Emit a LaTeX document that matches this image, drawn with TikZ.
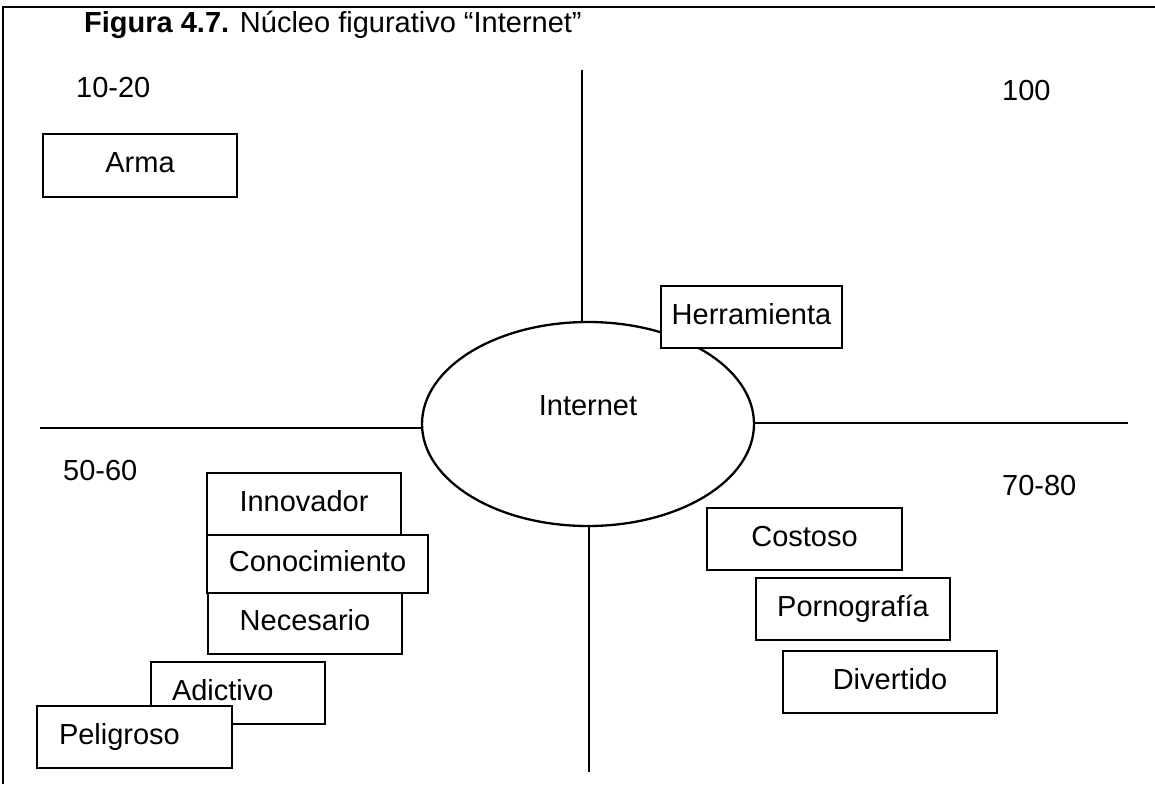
\documentclass[tikz,border=0pt]{standalone}
\usepackage{fontspec}
\setmainfont{Liberation Sans}
\usetikzlibrary{shapes.geometric}
\begin{document}
\begin{tikzpicture}[x=1pt,y=-1pt,
  every node/.style={font=\fontsize{29pt}{34pt}\selectfont},
  lbl/.style={anchor=base west, inner sep=0pt},
  wbox/.style={draw, line width=1.6pt, fill=white, rectangle, inner sep=0pt,
    text height=21pt, text depth=7pt, minimum height=62pt},
  axis/.style={line width=2.4pt},
  frameline/.style={line width=2.4pt}
]
\useasboundingbox (0,0) rectangle (1155,784);
% frame
\coordinate (fbl) at (3,784);
\coordinate (ftl) at (3,7);
\coordinate (ftr) at (1155,7);
\draw[frameline] (fbl) -- (ftl) -- (ftr);
% title
\node[lbl] (title) at (84,33) {\textbf{Figura 4.7.} Núcleo figurativo “Internet”};
% quadrant labels
\node[lbl] (q1) at (76,97) {10-20};
\node[lbl] (q2) at (1002,100) {100};
\node[lbl] (q3) at (63,480) {50-60};
\node[lbl] (q4) at (1002,495) {70-80};
% central ellipse
\node[draw, ellipse, line width=2.3pt, inner sep=0pt, minimum width=332pt, minimum height=204pt,
  text height=21pt, text depth=39pt] (inet) at (588,424) {Internet};
% axes
\coordinate (atop) at (582,70);
\coordinate (abot) at (589,772);
\coordinate (aleft) at (40,428);
\coordinate (aright) at (1128,423);
\draw[axis] (atop) -- (atop |- inet.north);
\draw[axis] (abot) -- (abot |- inet.south);
\draw[axis] (aleft) -- (aleft -| inet.west);
\draw[axis] (aright) -- (aright -| inet.east);
% boxes
\node[wbox, minimum width=194pt, minimum height=63pt] (arma) at (140,165.5) {Arma};
\node[wbox, minimum width=181pt] (herr) at (751.5,317) {Herramienta};
\node[wbox, minimum width=194pt] (innov) at (304,504) {Innovador};
\node[wbox, minimum width=194pt, minimum height=61pt] (neces) at (305,623.5) {Necesario};
\node[wbox, minimum width=221pt, minimum height=58pt] (conoc) at (317.5,564) {Conocimiento};
\node[wbox, minimum width=174pt, inner xsep=21pt, text width=132pt, align=left] (adict) at (238,693) {Adictivo};
\node[wbox, minimum width=195pt, inner xsep=22pt, text width=151pt, align=left] (pelig) at (134.5,737) {Peligroso};
\node[wbox, minimum width=195pt] (costo) at (804.5,539) {Costoso};
\node[wbox, minimum width=194pt] (porno) at (853,609) {Pornografía};
\node[wbox, minimum width=214pt] (diver) at (890,682) {Divertido};
\end{tikzpicture}
\end{document}
